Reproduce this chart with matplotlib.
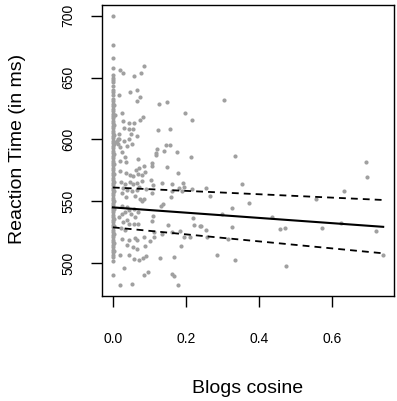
import matplotlib
matplotlib.use('Agg')
import matplotlib.pyplot as plt

plt.rcParams['font.family'] = ['Liberation Sans', 'DejaVu Sans']

# --- data ---
# stacked column of items with cosine = 0
col_y = [700, 676, 666, 657.5, 652, 650, 648, 646.5, 643, 640, 638, 636, 633,
         631, 629, 627, 625, 623, 621, 619, 617, 615, 613, 611, 609, 607, 605,
         603, 601, 599, 597, 595, 593, 591, 589, 587, 585, 583, 581, 579, 577,
         575, 573, 571, 569, 567, 565, 563, 561, 559, 557, 555, 553, 551, 549,
         547, 545, 543, 541, 539, 537, 535, 533, 531, 529, 527, 525, 523, 521,
         519, 517, 515, 513, 511, 509, 507, 505, 502, 490.8]
col_x = [0.0] * len(col_y)

# second thin column just right of zero
col2_y = [628, 620, 612, 604, 596, 588, 580, 572, 566, 558, 550, 544, 536,
          530, 524, 516, 510]
col2_x = [0.004] * len(col2_y)

# scattered items
sc_x = [0.021, 0.027, 0.0845, 0.076, 0.059, 0.016, 0.047, 0.066, 0.074,
        0.065, 0.125, 0.148, 0.025, 0.007, 0.082, 0.197, 0.217, 0.027, 0.045,
        0.059, 0.075, 0.030, 0.043, 0.055, 0.016, 0.049, 0.124, 0.155, 0.066,
        0.013, 0.012, 0.039, 0.145, 0.156, 0.122, 0.025, 0.140, 0.175, 0.213,
        0.117, 0.119, 0.034, 0.019, 0.035, 0.070, 0.106, 0.108, 0.084, 0.072,
        0.149, 0.020, 0.063, 0.036, 0.048, 0.178, 0.089, 0.068, 0.056, 0.079,
        0.022, 0.034, 0.047, 0.056, 0.065, 0.072, 0.081, 0.104, 0.111, 0.134,
        0.163, 0.192, 0.194, 0.027, 0.039, 0.052, 0.066, 0.092, 0.162, 0.180,
        0.188, 0.217, 0.010, 0.015, 0.020, 0.018, 0.030, 0.044, 0.053,
        0.025, 0.035, 0.061, 0.074, 0.079, 0.084, 0.108, 0.158, 0.136, 0.132,
        0.024, 0.038, 0.043, 0.057, 0.068, 0.032, 0.049, 0.025, 0.017, 0.038,
        0.062, 0.110, 0.108, 0.152, 0.220, 0.222, 0.237, 0.028, 0.045, 0.058,
        0.070, 0.022, 0.034, 0.113, 0.134, 0.161, 0.184, 0.194, 0.212, 0.025,
        0.043, 0.061, 0.066, 0.084, 0.113, 0.039, 0.054, 0.067, 0.089, 0.103,
        0.186, 0.021, 0.044, 0.059, 0.071, 0.083, 0.092, 0.130, 0.168, 0.030,
        0.095, 0.086, 0.163, 0.167, 0.021, 0.052, 0.179,
        0.303, 0.333, 0.256, 0.265, 0.353, 0.372, 0.327, 0.242, 0.255, 0.257,
        0.325, 0.316, 0.284, 0.334, 0.435, 0.457, 0.471, 0.473, 0.554, 0.571,
        0.623, 0.633, 0.693, 0.694, 0.718, 0.739, 0.298]
sc_y = [656, 654, 659.6, 654, 651.3, 636, 638.4, 640.3, 634.4,
        631.2, 629, 629.9, 621.6, 619.4, 618.4, 621.8, 615.7, 615.2, 613.6,
        613.6, 615.7, 609, 608.2, 608.2, 604.7, 604.7, 607.7, 608.2, 602.6,
        600.7, 598.6, 595.1, 595.9, 595.9, 592.7, 589.7, 590.3, 590, 585.7,
        588.7, 587.3, 585.7, 583, 581.7, 583.9, 581.2, 578.8, 578.5, 576.6,
        577.7, 574.5, 575, 572.9, 571.3, 572.6, 573.7, 571.8, 570.2, 571.6,
        565.4, 563.8, 565.4, 563.8, 565.2, 562, 566.5, 567, 563.2, 565.2,
        563.8, 564.9, 561.6, 560.4, 559, 558, 559.2, 560, 558.2, 560.6,
        558.4, 559.6, 598, 596, 594, 600, 598.6, 600, 596,
        556.6, 553.9, 554.4, 552.3, 550.4, 552.3, 557.1, 553.9, 547.7, 545.9,
        545.9, 545.1, 543.2, 543.7, 541.6, 541.1, 539.7, 539.7, 537.1, 535.2,
        537.1, 537.9, 534.1, 530.9, 536.5, 530.9, 530.3, 533.5, 531.6, 531.6,
        531.6, 528.3, 527.1, 525.5, 523.9, 525.5, 526.3, 521.5, 521.5, 519.7,
        519.1, 520.5, 518.9, 521, 521.5, 514.8, 512.7, 511.6, 514.3, 517.8,
        513.8, 506.3, 506.3, 503.1, 502.2, 504.4, 505.8, 504.2, 505, 496.1,
        492.9, 490.8, 491.6, 489.7, 482.7, 483.3, 482.2,
        632, 586.5, 560.8, 554.4, 563.8, 548.6, 544.8, 530.3, 527.1, 521,
        529.5, 519.4, 506.3, 502.8, 537.1, 527.4, 528.7, 497.4, 551.5, 528.3,
        532.7, 558.2, 581.7, 569.7, 525.8, 506.8, 539.7]

# regression fit and confidence band
fit_x = [0.0, 0.739]
fit_y = [545.1, 529.4]
upper_y = [561.2, 551.1]
lower_y = [529.0, 508.0]

xticks = [0.0, 0.2, 0.4, 0.6]
yticks = [500, 550, 600, 650, 700]

# --- plot ---
fig = plt.figure(figsize=(3.97, 4.01), dpi=100)
ax = fig.add_axes([102 / 397, 1 - 296 / 401, 292 / 397, 291 / 401])

all_x = col_x + col2_x + sc_x
all_y = col_y + col2_y + sc_y
ax.scatter(all_x, all_y, s=9, color='#a0a0a0', linewidths=0, zorder=2)

ax.plot(fit_x, fit_y, color='black', lw=1.5, zorder=3)
ax.plot(fit_x, upper_y, color='black', lw=1.3, linestyle=(0, (3.8, 2.8)), zorder=3)
ax.plot(fit_x, lower_y, color='black', lw=1.3, linestyle=(0, (3.8, 2.8)), zorder=3)

# R-style 4% padding
xr = max(all_x) - min(all_x)
yr = max(all_y) - min(all_y)
ax.set_xlim(min(all_x) - 0.04 * xr, max(all_x) + 0.04 * xr)
ax.set_ylim(min(all_y) - 0.04 * yr, max(all_y) + 0.04 * yr)

ax.set_xticks(xticks)
ax.set_xticklabels([f"{t:.1f}" for t in xticks])
ax.set_yticks(yticks)
ax.set_yticklabels([str(t) for t in yticks], rotation=90, va='center')

for s in ax.spines.values():
    s.set_linewidth(1.0)
ax.tick_params(length=8, width=1.0, labelsize=10, color='black')
ax.tick_params(axis='x', pad=18)
ax.tick_params(axis='y', pad=11)

ax.set_xlabel("Blogs cosine", fontsize=14)
ax.set_ylabel("Reaction Time (in ms)", fontsize=14)
ax.xaxis.set_label_coords(0.5, -0.287)
ax.yaxis.set_label_coords(-0.26, 0.505)

fig.savefig('out.png', dpi=100)
